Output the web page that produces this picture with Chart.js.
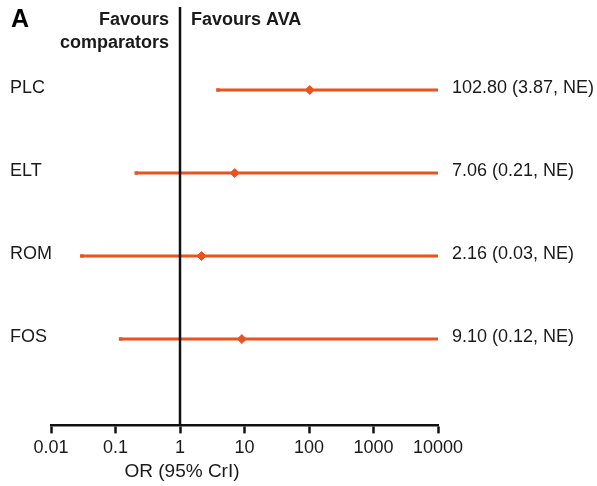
<!DOCTYPE html>
<html>
<head>
<meta charset="utf-8">
<script src="https://cdn.jsdelivr.net/npm/chart.js@4"></script>
<style>
  html, body { margin: 0; padding: 0; background: #fff; }
  #wrap { width: 597px; height: 486px; }
</style>
</head>
<body>
<div id="wrap"><canvas id="forest"></canvas></div>
<script>
const categories = ["PLC", "ELT", "ROM", "FOS"];
const estimates = [102.80, 7.06, 2.16, 9.10];
const lowerCrI = [3.87, 0.21, 0.03, 0.12];
const upperCrI = [10000, 10000, 10000, 10000]; // NE, drawn to the axis end
const resultLabels = ["102.80 (3.87, NE)", "7.06 (0.21, NE)", "2.16 (0.03, NE)", "9.10 (0.12, NE)"];
const tickValues = [0.01, 0.1, 1, 10, 100, 1000, 10000];
const tickLabels = ["0.01", "0.1", "1", "10", "100", "1000", "10000"];

const orange = "#e8531f";
const font = "Liberation Sans, Arial, sans-serif";

const datasets = [];

// line of no effect
datasets.push({
  type: "line",
  data: [{ x: 1, y: 0 }, { x: 1, y: 5.04 }],
  borderColor: "#111",
  borderWidth: 2.5,
  pointRadius: 0,
});

categories.forEach((cat, i) => {
  datasets.push({
    type: "line",
    data: [{ x: lowerCrI[i], y: i + 1 }, { x: upperCrI[i], y: i + 1 }],
    borderColor: orange,
    borderWidth: 3,
    pointRadius: [2.5, 0],
    pointStyle: "rect",
    pointBackgroundColor: orange,
    pointBorderWidth: 0,
  });
});

datasets.push({
  type: "scatter",
  data: estimates.map((v, i) => ({ x: v, y: i + 1 })),
  pointStyle: "rectRot",
  pointRadius: 4.5,
  backgroundColor: orange,
  borderColor: orange,
});

const textPlugin = {
  id: "forestText",
  afterDraw(chart) {
    const ctx = chart.ctx;
    const xs = chart.scales.x;
    const ys = chart.scales.y;
    const area = chart.chartArea;
    ctx.save();
    ctx.fillStyle = "#1a1a1a";
    ctx.textBaseline = "middle";

    ctx.font = "18px " + font;
    ctx.textAlign = "left";
    categories.forEach((cat, i) => {
      const y = ys.getPixelForValue(i + 1) - 2;
      ctx.fillText(cat, 10, y);
      ctx.fillText(resultLabels[i], area.right + 14, y);
    });

    const x1 = xs.getPixelForValue(1);
    ctx.font = "bold 18px " + font;
    ctx.textAlign = "right";
    ctx.fillText("Favours", x1 - 11, 20);
    ctx.fillText("comparators", x1 - 11, 43);
    ctx.textAlign = "left";
    ctx.fillText("Favours AVA", x1 + 11, 20);

    ctx.font = "bold 25px " + font;
    ctx.fillStyle = "#000";
    ctx.fillText("A", 11, 20);

    ctx.font = "19px " + font;
    ctx.fillStyle = "#1a1a1a";
    ctx.textAlign = "center";
    ctx.fillText("OR (95% CrI)", x1 + 2, 472);
    ctx.restore();
  },
};

new Chart(document.getElementById("forest"), {
  type: "scatter",
  data: { datasets: datasets },
  options: {
    responsive: true,
    maintainAspectRatio: false,
    animation: false,
    layout: { padding: { left: 51, right: 159, top: 7, bottom: 23 } },
    plugins: {
      legend: { display: false },
      tooltip: { enabled: false },
    },
    scales: {
      x: {
        type: "logarithmic",
        min: 0.01,
        max: 10000,
        afterBuildTicks: (scale) => {
          scale.ticks = tickValues.map((v) => ({ value: v }));
        },
        border: { display: true, color: "#111", width: 2.5 },
        grid: {
          drawOnChartArea: false,
          drawTicks: true,
          tickLength: 8,
          tickWidth: 2.5,
          tickColor: "#111",
        },
        ticks: {
          autoSkip: false,
          maxRotation: 0,
          padding: 4,
          color: "#1a1a1a",
          font: { family: font, size: 18 },
          callback: (value) => {
            const i = tickValues.indexOf(value);
            return i >= 0 ? tickLabels[i] : "";
          },
        },
      },
      y: {
        type: "linear",
        display: false,
        reverse: true,
        min: 0,
        max: 5.04,
      },
    },
  },
  plugins: [textPlugin],
});
</script>
</body>
</html>
